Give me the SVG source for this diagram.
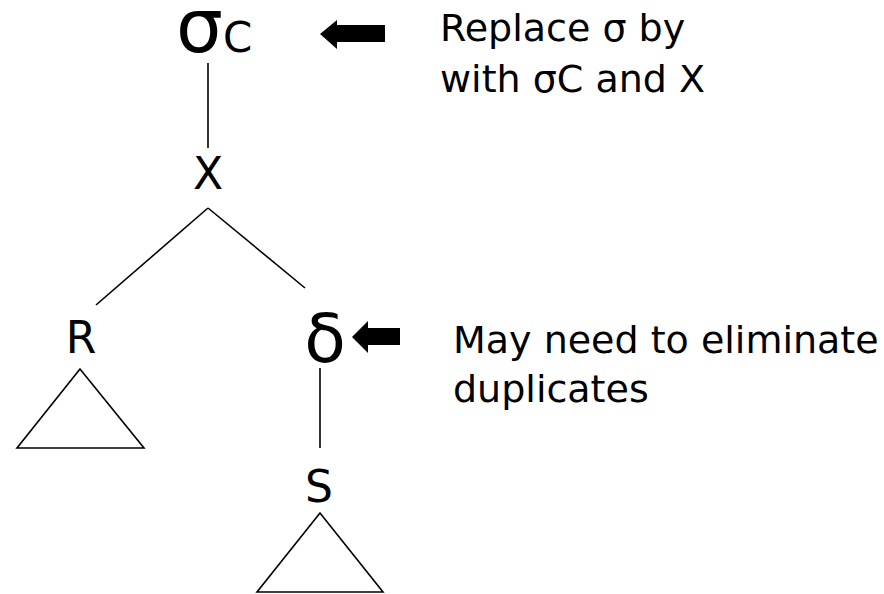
<svg xmlns="http://www.w3.org/2000/svg" width="884" height="594" viewBox="0 0 884 594">
  <style>
    text { font-family: "DejaVu Sans", Verdana, sans-serif; fill: #000; }
    .lbl { font-size: 44px; text-anchor: middle; }
    .note { font-size: 38px; }
    .edge { stroke: #000; stroke-width: 1.6; fill: none; }
    .arrow { fill: #000; }
  </style>

  <g id="connectors">
    <line class="edge" x1="208" y1="63" x2="208" y2="148"/>
    <line class="edge" x1="208" y1="208" x2="96" y2="305"/>
    <line class="edge" x1="208" y1="208" x2="305" y2="288"/>
    <line class="edge" x1="320" y1="368" x2="320" y2="448"/>
  </g>

  <g id="node-sigma">
    <text x="176" y="52"><tspan font-size="74">σ</tspan><tspan font-size="42">C</tspan></text>
  </g>
  <g id="node-x">
    <text class="lbl" x="208" y="189" font-size="48">X</text>
  </g>
  <g id="node-r">
    <text class="lbl" x="81" y="353">R</text>
    <polygon class="edge" points="80,369 17,448 144,448"/>
  </g>
  <g id="node-delta">
    <text x="325" y="362" font-size="68" text-anchor="middle">δ</text>
  </g>
  <g id="node-s">
    <text class="lbl" x="319" y="502">S</text>
    <polygon class="edge" points="320,513 257,592 383,592"/>
  </g>

  <g id="note-replace">
    <!-- block arrow pointing at σC -->
    <path class="arrow" d="M320,34 L337,20 L337,25 L385,25 L385,42 L337,42 L337,49 Z"/>
    <text class="note" x="440" y="41">Replace σ by</text>
    <text class="note" x="440" y="92">with σC and X</text>
  </g>
  <g id="note-duplicates">
    <!-- block arrow pointing at δ -->
    <path class="arrow" d="M352,337 L368,321 L368,328 L400,328 L400,345 L368,345 L368,353 Z"/>
    <text class="note" x="453" y="353">May need to eliminate</text>
    <text class="note" x="453" y="402">duplicates</text>
  </g>
</svg>
